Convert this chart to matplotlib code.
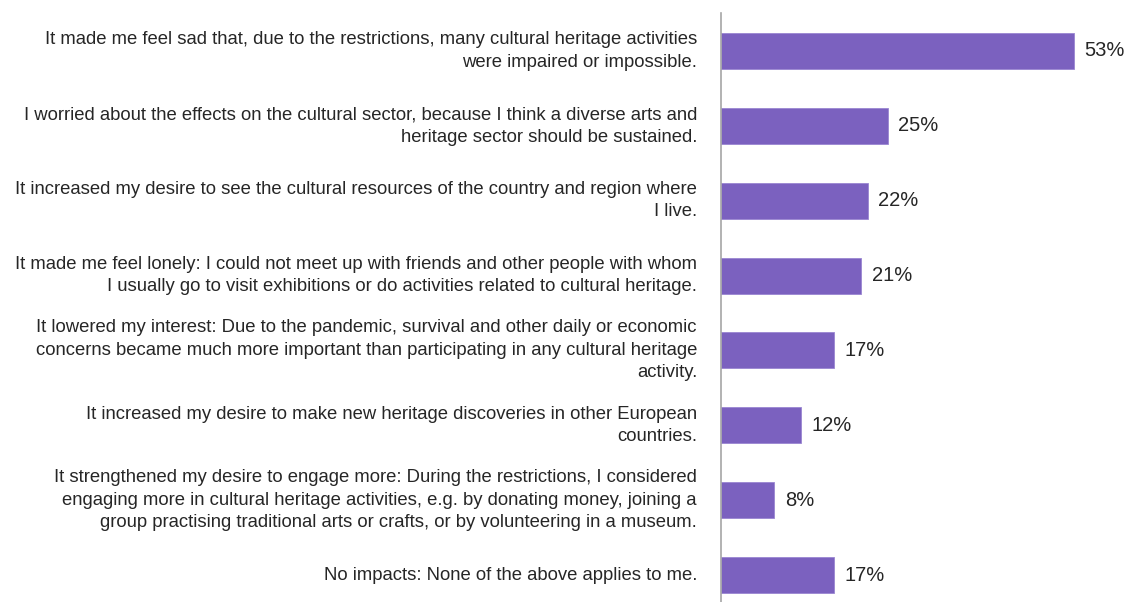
import matplotlib.pyplot as plt
from matplotlib import font_manager
import matplotlib.transforms as mtransforms

# pick a narrow sans if there is one
names = {f.name for f in font_manager.fontManager.ttflist}
family = 'Liberation Sans Narrow' if 'Liberation Sans Narrow' in names else 'Liberation Sans'
plt.rcParams['font.family'] = [family, 'DejaVu Sans']

labels = [
    "It made me feel sad that, due to the restrictions, many cultural heritage activities\nwere impaired or impossible.",
    "I worried about the effects on the cultural sector, because I think a diverse arts and\nheritage sector should be sustained.",
    "It increased my desire to see the cultural resources of the country and region where\nI live.",
    "It made me feel lonely: I could not meet up with friends and other people with whom\nI usually go to visit exhibitions or do activities related to cultural heritage.",
    "It lowered my interest: Due to the pandemic, survival and other daily or economic\nconcerns became much more important than participating in any cultural heritage\nactivity.",
    "It increased my desire to make new heritage discoveries in other European\ncountries.",
    "It strengthened my desire to engage more: During the restrictions, I considered\nengaging more in cultural heritage activities, e.g. by donating money, joining a\ngroup practising traditional arts or crafts, or by volunteering in a museum.",
    "No impacts: None of the above applies to me.",
]
values = [53, 25, 22, 21, 17, 12, 8, 17]

fig = plt.figure(figsize=(11.26, 6.02), dpi=100)
ax = fig.add_axes([721 / 1126, 0, 405 / 1126, 589 / 602])

pos = list(range(len(values)))
ax.barh(pos, values, height=0.48, color='#7b61bf', edgecolor='#9a86d2', linewidth=0.6)
ax.set_xlim(0, 405 / 6.66)
ax.set_ylim(7.36, -0.507)

for s in ['top', 'right', 'bottom']:
    ax.spines[s].set_visible(False)
ax.spines['left'].set_color('#a6a6a6')
ax.spines['left'].set_linewidth(1.2)
ax.set_xticks([])
ax.set_yticks([])

# value labels
for p, v in zip(pos, values):
    ax.text(v + 1.6, p, f'{v}%', va='center', ha='left', fontsize=14.5, color='#262626')

# category labels, right aligned to the left of the axis
trans = mtransforms.blended_transform_factory(ax.transAxes, ax.transData)
off = mtransforms.ScaledTranslation(-24 / 100, 0, fig.dpi_scale_trans)
for p, lab in zip(pos, labels):
    ax.text(0, p, lab, transform=trans + off, ha='right', va='center',
            multialignment='right', fontsize=13.3, color='#262626', linespacing=1.42)

fig.savefig('out.png', dpi=100, facecolor='white')
